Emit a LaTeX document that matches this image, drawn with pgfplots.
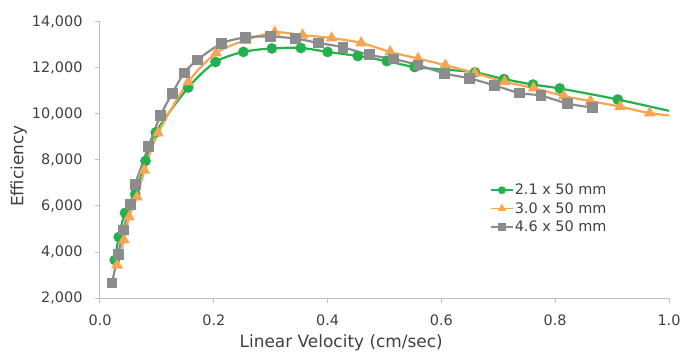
\documentclass[border=0pt]{standalone}
\usepackage{fontspec}
\setmainfont{DejaVu Sans}
\usepackage{pgfplots}
\pgfplotsset{compat=1.18}
\definecolor{cgreen}{RGB}{34,177,76}
\definecolor{corange}{RGB}{247,165,82}
\definecolor{cgray}{RGB}{140,140,140}
\definecolor{caxis}{RGB}{191,191,191}
\definecolor{ctext}{RGB}{64,64,64}
\begin{document}
\begin{tikzpicture}
\begin{axis}[
  scale only axis, width=569bp, height=276bp,
  xmin=0, xmax=1, ymin=2000, ymax=14000,
  xtick={0,0.2,0.4,0.6,0.8,1.0},
  ytick={2000,4000,6000,8000,10000,12000,14000},
  scaled y ticks=false, scaled x ticks=false,
  axis x line*=bottom, axis y line*=left,
  axis line style={caxis, line width=1bp, -},
  tick style={caxis, line width=1bp},
  tick align=outside, major tick length=5bp,
  xticklabel style={yshift=-8bp, /pgf/number format/.cd, fixed, fixed zerofill, precision=1},
  yticklabel style={xshift=-9bp, /pgf/number format/.cd, 1000 sep={,}},
  /pgf/number format/assume math mode=true,
  ticklabel style={font=\fontsize{14.5}{17}\selectfont, text=ctext},
  xlabel={Linear Velocity (cm/sec)},
  ylabel={Efficiency},
  label style={font=\fontsize{17}{20}\selectfont, text=ctext},
  xlabel style={at={(axis description cs:0.424,-0.181)}, anchor=base},
  ylabel style={at={(axis description cs:-0.143,0.478)}, anchor=center, rotate=0},
  legend style={at={(axis description cs:0.685,0.417)}, anchor=north west,
    draw=none, fill=none, font=\fontsize{14.5}{17}\selectfont, text=ctext,
    row sep=4bp, inner sep=0pt, nodes={inner sep=1bp}},
  legend cell align=left,
  legend image code/.code={\draw[mark repeat=2,mark phase=2,#1,mark size=3bp,line width=1.8bp] plot coordinates {(0bp,0bp) (11bp,0bp) (22bp,0bp)};},
]
\coordinate (O) at (rel axis cs:0,0);
\addplot[cgreen, line width=2.2bp, smooth, mark=*, mark size=4.2bp, mark options={solid, fill=cgreen, draw=cgreen}] coordinates {
(0.026,3650) (0.033,4650) (0.044,5700) (0.062,6520) (0.080,7960) (0.098,9200)
(0.155,11150) (0.203,12260) (0.252,12700) (0.302,12850) (0.353,12870) (0.400,12700)
(0.453,12520) (0.504,12300) (0.553,12040) (0.606,11930) (0.659,11810) (0.710,11520)
(0.761,11280) (0.808,11110) (0.910,10630) (1.05,9860)
};
\addlegendentry{2.1 x 50 mm}
\addplot[corange, line width=2.2bp, smooth, mark=triangle*, mark size=4.6bp, mark options={solid, fill=corange, draw=corange}] coordinates {
(0.030,3430) (0.042,4520) (0.051,5520) (0.065,6390) (0.078,7550) (0.102,9170)
(0.155,11390) (0.204,12650) (0.255,13200) (0.307,13550) (0.356,13430) (0.407,13300)
(0.459,13090) (0.510,12700) (0.559,12410) (0.607,12120) (0.659,11780) (0.711,11400)
(0.762,11130) (0.815,10780) (0.862,10560) (0.914,10320) (0.966,10040) (1.05,9800)
};
\addlegendentry{3.0 x 50 mm}
\addplot[cgray, line width=2.2bp, smooth, mark=square*, mark size=4.3bp, mark options={solid, fill=cgray, draw=cgray}] coordinates {
(0.021,2650) (0.032,3900) (0.041,4960) (0.053,6050) (0.062,6950) (0.085,8570)
(0.106,9920) (0.127,10900) (0.148,11780) (0.171,12350) (0.214,13070) (0.256,13330)
(0.299,13370) (0.343,13280) (0.384,13090) (0.427,12900) (0.473,12570) (0.516,12390)
(0.559,12130) (0.606,11760) (0.649,11550) (0.694,11240) (0.737,10910) (0.775,10800)
(0.822,10450) (0.866,10280)
};
\addlegendentry{4.6 x 50 mm}
\end{axis}
\pgfresetboundingbox
\path[use as bounding box] (O) ++(-100bp,-54bp) rectangle ++(684bp,352bp);
\end{tikzpicture}
\end{document}
